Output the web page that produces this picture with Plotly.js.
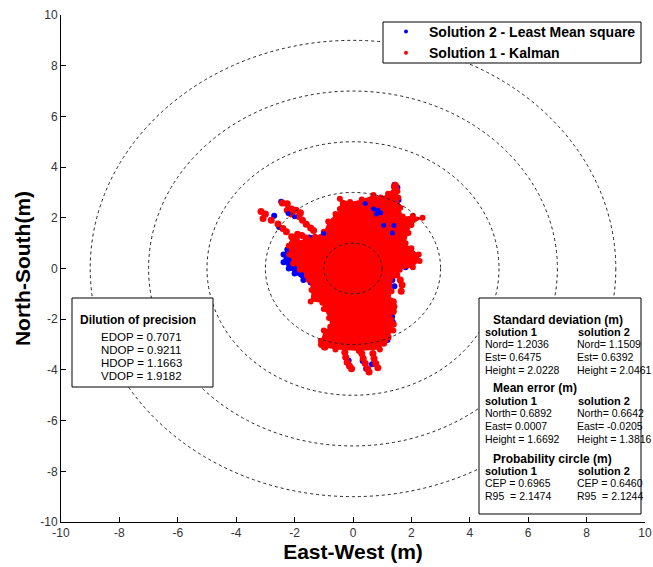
<!DOCTYPE html>
<html><head><meta charset="utf-8">
<script src="https://cdn.plot.ly/plotly-3.0.1.min.js"></script>
<style>html,body{margin:0;padding:0;background:#fff}</style>
</head><body><div id="chart" style="width:653px;height:567px"></div>
<script>
// ---- data ----
const circleRadii = [1, 3, 5, 7, 9];
const axisTicks = [-10, -8, -6, -4, -2, 0, 2, 4, 6, 8, 10];
const seriesNames = ['Solution 2 - Least Mean square', 'Solution 1 - Kalman'];

// Solution 1 (Kalman) main point cloud envelope
const kalmanBodyX = [-0.45,-0.10,0.30,0.70,0.95,1.20,1.40,1.52,1.55,1.62,1.70,2.05,2.38,2.00,1.90,1.80,2.00,2.25,2.28,2.05,1.60,1.38,1.32,1.28,1.38,1.30,1.38,1.10,0.92,0.20,-0.60,-0.95,-1.10,-1.00,-0.78,-0.82,-1.00,-1.05,-1.45,-1.42,-1.52,-1.58,-1.82,-2.05,-2.18,-2.20,-2.05,-1.60,-1.30,-1.00,-0.85,-0.60,-0.45];
const kalmanBodyY = [2.75,2.62,2.72,2.90,2.80,2.95,3.22,3.05,2.80,2.40,2.05,2.08,2.00,1.72,1.40,1.00,0.80,0.55,0.30,0.05,-0.05,-0.30,-0.90,-1.25,-1.60,-2.00,-2.45,-2.85,-3.20,-3.25,-3.20,-3.12,-2.85,-2.45,-2.30,-1.95,-1.60,-1.35,-1.30,-0.85,-0.45,-0.28,-0.05,0.20,0.55,0.90,1.05,1.18,1.25,1.45,1.85,2.15,2.35];
// Solution 1 (Kalman) outlying points
const kalmanOutX = [-2.42,-2.25,-2.25,-2.10,-1.95,-1.80,-1.85,-2.10,-3.15,-3.00,-3.08,-2.80,-2.57,-2.40,-2.28,-2.10,-1.94,-2.08,-1.90,-1.75,-1.60,-1.73,-1.60,-1.45,-1.35,1.45,1.48,1.62,1.68,1.65,1.50,1.38,1.40,1.38,1.38,1.20,1.05,-0.28,-0.25,-0.20,-0.12,-0.05,0.30,0.35,0.42,0.50,0.55,0.68,0.72,0.78,0.85,-1.08,-0.98];
const kalmanOutY = [2.58,2.55,2.30,2.35,2.30,2.20,2.05,2.15,2.25,2.15,1.97,1.90,1.76,1.58,1.45,1.25,1.12,1.00,1.35,1.30,1.20,1.90,1.75,1.60,1.50,3.28,3.10,-0.45,-0.65,-0.90,-0.25,-1.31,-1.50,-1.70,-2.20,-2.70,-2.95,-3.30,-3.50,-3.70,-3.85,-3.95,-3.35,-3.55,-3.75,-3.95,-4.08,-3.35,-3.55,-3.75,-3.92,-3.00,-3.10];
// Solution 2 (least mean square) points outside the Kalman cloud
const lmsEdgeX = [-2.25,-2.38,-2.38,-2.20,-2.00,-1.70,-1.45,-1.40,-1.60,-2.00,-2.12];
const lmsEdgeY = [0.75,0.55,0.25,0.00,-0.20,-0.45,-0.55,-0.40,-0.10,0.30,0.70];
const lmsOutX = [-2.46,-2.70,-2.53,-1.50,-1.38,1.42,1.52,1.56,1.55,1.40,1.35,1.42,1.30,1.34,1.36,1.78,1.80,0.33,0.45,0.65,-0.15,0.95,1.18];
const lmsOutY = [2.63,2.08,1.64,1.22,1.20,3.30,3.20,2.70,2.45,-0.20,-0.45,-0.70,-1.70,-1.90,-2.10,0.47,0.05,-3.65,-3.95,-3.78,-3.63,-2.55,-2.82];
// Solution 2 points showing inside gaps of the Kalman cloud
const lmsInX = [0.42,0.70,0.85,0.95,0.80,1.05,1.40,1.35,-2.22,-2.00,-1.00];
const lmsInY = [2.56,2.35,2.30,2.20,2.15,1.71,1.70,1.40,2.17,2.04,1.38];

const dopTitle = 'Dilution of precision';
const dopLines = ['EDOP = 0.7071', 'NDOP = 0.9211', 'HDOP = 1.1663', 'VDOP = 1.9182'];
const statHeaders = ['Standard deviation (m)', 'Mean error (m)', 'Probability circle (m)'];
const solLabels = ['solution 1', 'solution 2'];
const statSol1 = [['Nord= 1.2036', 'Est= 0.6475', 'Height = 2.0228'],
                  ['North= 0.6892', 'East= 0.0007', 'Height = 1.6692'],
                  ['CEP = 0.6965', 'R95\u00a0\u00a0= 2.1474']];
const statSol2 = [['Nord= 1.1509', 'Est= 0.6392', 'Height = 2.0461'],
                  ['North= 0.6642', 'East= -0.0205', 'Height = 1.3816'],
                  ['CEP = 0.6460', 'R95\u00a0\u00a0= 2.1244']];

// ---- layout helpers (pixel -> paper) ----
const W = 653, H = 567, L = 61, R = 645, T = 15, B = 522;
const PX = p => (p - L) / (R - L);
const PY = p => (B - p) / (B - T);
const FONT = 'Liberation Sans, Arial, sans-serif';
const RED = '#ff0000', BLUE = '#0000ff';

const traces = [
  {x: lmsEdgeX, y: lmsEdgeY, mode: 'markers', fill: 'toself', fillcolor: BLUE,
   marker: {color: BLUE, size: 6}, showlegend: false, hoverinfo: 'skip'},
  {x: lmsOutX, y: lmsOutY, mode: 'markers', marker: {color: BLUE, size: 6}, showlegend: false, hoverinfo: 'skip'},
  {x: kalmanBodyX, y: kalmanBodyY, mode: 'markers', fill: 'toself', fillcolor: RED,
   marker: {color: RED, size: 6}, showlegend: false, hoverinfo: 'skip'},
  {x: kalmanOutX, y: kalmanOutY, mode: 'markers', marker: {color: RED, size: 7}, showlegend: false, hoverinfo: 'skip'},
  {x: lmsInX, y: lmsInY, mode: 'markers', marker: {color: BLUE, size: 5}, showlegend: false, hoverinfo: 'skip'},
  {x: [null], y: [null], mode: 'markers', name: seriesNames[0], marker: {color: BLUE, size: 4}},
  {x: [null], y: [null], mode: 'markers', name: seriesNames[1], marker: {color: RED, size: 4}}
];

const shapes = circleRadii.map(r => ({
  type: 'circle', xref: 'x', yref: 'y', x0: -r, x1: r, y0: -r, y1: r,
  line: {color: '#222', width: 1, dash: '3px,3px'}, layer: 'above'
}));
// legend frame, DOP box, statistics box
shapes.push({type: 'rect', xref: 'paper', yref: 'paper', x0: PX(383), x1: PX(641), y0: PY(63), y1: PY(22),
  fillcolor: '#fff', line: {color: '#000', width: 1}, layer: 'above'});
shapes.push({type: 'rect', xref: 'paper', yref: 'paper', x0: PX(72), x1: PX(213), y0: PY(387), y1: PY(298),
  fillcolor: '#fff', line: {color: '#000', width: 1}, layer: 'above'});
shapes.push({type: 'rect', xref: 'paper', yref: 'paper', x0: PX(479), x1: PX(641), y0: PY(514), y1: PY(298),
  fillcolor: '#fff', line: {color: '#000', width: 1}, layer: 'above'});

const ann = [];
function txt(text, px, py, size, bold, anchor) {
  ann.push({text: bold ? '<b>' + text + '</b>' : text, xref: 'paper', yref: 'paper',
    x: PX(px), y: PY(py), xanchor: anchor || 'left', yanchor: 'middle', showarrow: false,
    font: {family: FONT, size: size, color: '#000'}});
}
txt(dopTitle, 78, 320, 12, true);
dopLines.forEach((s, i) => txt(s, 141, 337 + i * 13, 11.5, false, 'center'));

const headerY = [320, 388, 459];
const solY = [332, 401, 471];
headerY.forEach((hy, k) => {
  txt(statHeaders[k], 491, hy, 12, true);
  txt(solLabels[0], 483, solY[k], 11, true);
  txt(solLabels[1], 576, solY[k], 11, true);
  statSol1[k].forEach((s, i) => txt(s, 483, solY[k] + 11.5 + i * 13.3, 10.5, false));
  statSol2[k].forEach((s, i) => txt(s, 575, solY[k] + 11.5 + i * 13.3, 10.5, false));
});

const axisCommon = {
  range: [-10, 10], tickvals: axisTicks, ticktext: axisTicks.map(String),
  ticks: 'inside', ticklen: 5, tickcolor: '#000', showline: true, linecolor: '#000', linewidth: 1,
  showgrid: false, zeroline: false, fixedrange: true, ticklabeloverflow: 'allow',
  tickfont: {family: FONT, size: 12, color: '#333'}
};

const layout = {
  width: W, height: H, margin: {l: L, r: W - R, t: T, b: H - B},
  paper_bgcolor: '#fff', plot_bgcolor: '#fff',
  xaxis: Object.assign({}, axisCommon, {title: {text: '<b>East-West (m)</b>', font: {family: FONT, size: 21, color: '#000'}, standoff: 2}}),
  yaxis: Object.assign({}, axisCommon, {title: {text: '<b>North-South(m)</b>', font: {family: FONT, size: 21, color: '#000'}, standoff: 3}}),
  showlegend: true,
  legend: {x: PX(383), y: PY(16), xanchor: 'left', yanchor: 'top', bgcolor: 'rgba(0,0,0,0)',
    borderwidth: 0, traceorder: 'normal', itemwidth: 36,
    font: {family: FONT, size: 14, color: '#000', weight: 'bold'}},
  shapes: shapes, annotations: ann
};

Plotly.newPlot('chart', traces, layout, {staticPlot: true, displayModeBar: false});
</script></body></html>
